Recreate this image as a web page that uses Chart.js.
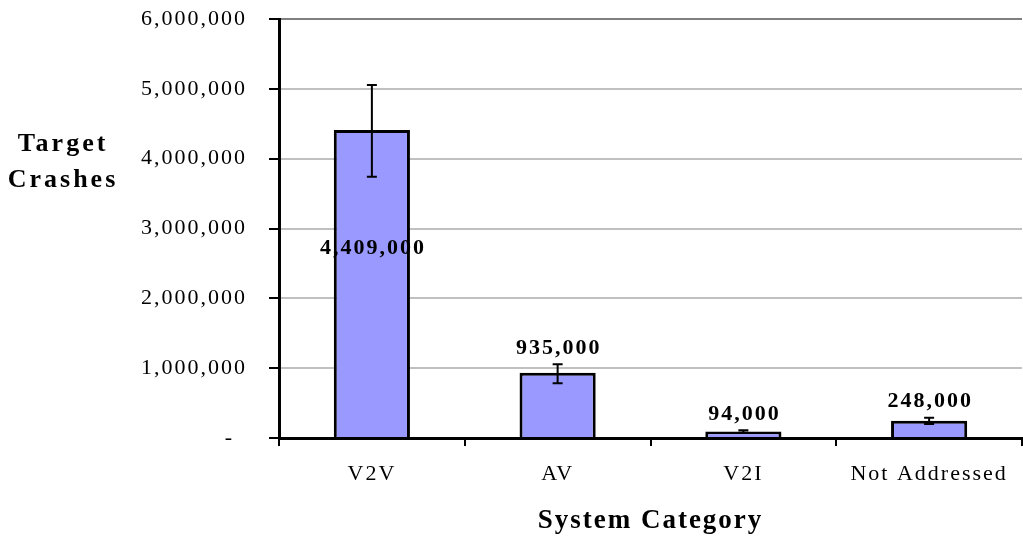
<!DOCTYPE html>
<html>
<head>
<meta charset="utf-8">
<script src="https://cdn.jsdelivr.net/npm/chart.js"></script>
<style>
  html, body { margin: 0; padding: 0; background: #fff; }
  #wrap { width: 1023px; height: 537px; position: relative; }
</style>
</head>
<body>
<div id="wrap"><canvas id="chart"></canvas></div>
<script>
const categories = ['V2V', 'AV', 'V2I', 'Not Addressed'];
const crashes = [4409000, 935000, 94000, 248000];
const errLow = [3740000, 785000, 76000, 200000];
const errHigh = [5055000, 1055000, 112000, 290000];
const labelPlace = ['inside', 'above', 'above', 'above'];
const yTicks = [0, 1000000, 2000000, 3000000, 4000000, 5000000, 6000000];

const serif = '"Liberation Serif", "Times New Roman", serif';

function fmt(v) {
  if (v === 0) return '-\u2002';
  return v.toString().replace(/\B(?=(\d{3})+(?!\d))/g, ',');
}

// Excel-ish wide text: apply letter spacing to the canvas context
const spacing = {
  id: 'spacing',
  beforeUpdate(chart) { chart.ctx.letterSpacing = '2px'; },
  beforeLayout(chart) { chart.ctx.letterSpacing = '2px'; },
  beforeDraw(chart) { chart.ctx.letterSpacing = '2px'; }
};

const errorBars = {
  id: 'errorBars',
  afterDatasetsDraw(chart) {
    const ctx = chart.ctx;
    const y = chart.scales.y;
    const meta = chart.getDatasetMeta(0);
    ctx.save();
    ctx.strokeStyle = '#000';
    ctx.lineWidth = 2;
    meta.data.forEach(function(bar, i) {
      const top = y.getPixelForValue(errHigh[i]);
      const bot = y.getPixelForValue(errLow[i]);
      ctx.beginPath();
      ctx.moveTo(bar.x, top); ctx.lineTo(bar.x, bot);
      ctx.moveTo(bar.x - 5, top); ctx.lineTo(bar.x + 5, top);
      ctx.moveTo(bar.x - 5, bot); ctx.lineTo(bar.x + 5, bot);
      ctx.stroke();
    });
    // value labels
    ctx.letterSpacing = '2px';
    ctx.fillStyle = '#000';
    ctx.font = 'bold 22px ' + serif;
    ctx.textAlign = 'center';
    meta.data.forEach(function(bar, i) {
      let ty;
      if (labelPlace[i] === 'inside') {
        ty = bar.y + (bar.base - bar.y) * 0.385;
        ctx.textBaseline = 'middle';
      } else {
        ty = Math.min(bar.y, y.getPixelForValue(errHigh[i])) - 5;
        ctx.textBaseline = 'bottom';
      }
      ctx.fillText(fmt(crashes[i]), bar.x + 1, ty);
    });
    // y axis title, horizontal, two lines
    ctx.letterSpacing = '3px';
    ctx.font = 'bold 26px ' + serif;
    ctx.textBaseline = 'middle';
    ctx.fillText('Target', 63, 144);
    ctx.fillText('Crashes', 63, 180);
    ctx.restore();
  }
};

new Chart(document.getElementById('chart'), {
  type: 'bar',
  data: {
    labels: categories,
    datasets: [{
      data: crashes,
      backgroundColor: '#9999ff',
      borderColor: '#000',
      borderWidth: 3,
      categoryPercentage: 1,
      barPercentage: 0.41
    }]
  },
  options: {
    responsive: true,
    maintainAspectRatio: false,
    animation: false,
    layout: { padding: { left: 0, right: 1, top: 19, bottom: 0 } },
    plugins: {
      legend: { display: false },
      tooltip: { enabled: false }
    },
    scales: {
      x: {
        grid: {
          offset: true,
          drawOnChartArea: false,
          color: '#000',
          lineWidth: 2,
          tickLength: 8
        },
        border: { color: '#000', width: 3 },
        ticks: {
          color: '#000',
          font: { family: serif, size: 22 },
          padding: 15,
          maxRotation: 0
        },
        title: {
          display: true,
          text: 'System Category',
          color: '#000',
          font: { family: serif, size: 27, weight: 'bold' },
          padding: { top: 10, bottom: 0 }
        },
        afterFit(scale) { scale.height = 99; }
      },
      y: {
        min: 0,
        max: 6000000,
        afterBuildTicks(scale) {
          scale.ticks = yTicks.map(function(v) { return { value: v }; });
        },
        grid: {
          color: function(c) { return c.tick && c.tick.value === 6000000 ? '#808080' : '#c0c0c0'; },
          lineWidth: 2,
          tickColor: '#000',
          tickLength: 10
        },
        border: { color: '#000', width: 3 },
        ticks: {
          color: '#000',
          font: { family: serif, size: 22 },
          padding: 22,
          callback: function(v) { return fmt(v); }
        },
        afterFit(scale) {
          scale.width = 279;
          scale.paddingTop = 0;
          scale.paddingBottom = 0;
        }
      }
    }
  },
  plugins: [spacing, errorBars]
});
</script>
</body>
</html>
